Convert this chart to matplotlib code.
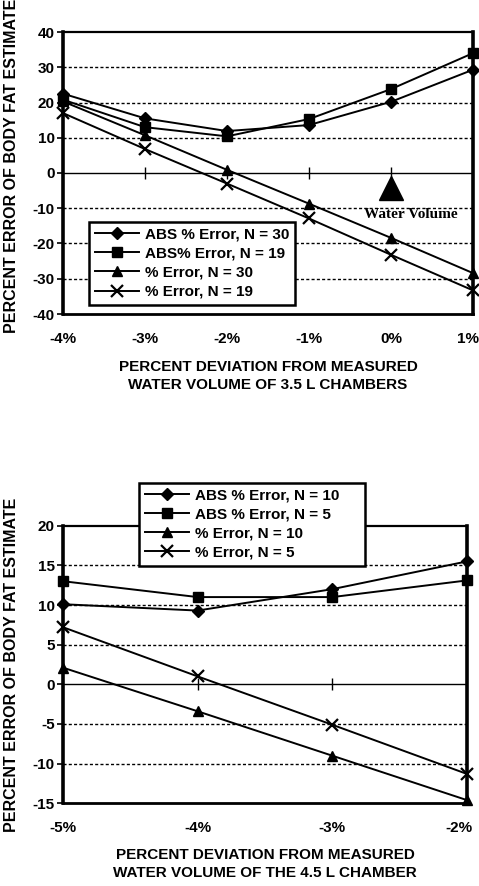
import matplotlib
matplotlib.use("Agg")
import matplotlib.pyplot as plt
import matplotlib.transforms as mtrans

plt.rcParams['font.family'] = ['Liberation Sans', 'DejaVu Sans']
plt.rcParams['font.weight'] = 'bold'

# ---- Top chart data (3.5 L chambers) ----
top_x = [-4, -3, -2, -1, 0, 1]
top_xlabels = ['-4%', '-3%', '-2%', '-1%', '0%', '1%']
top_abs_n30 = [22.5, 15.5, 11.9, 13.6, 20.2, 29.3]
top_abs_n19 = [20.8, 13.0, 10.4, 15.3, 23.8, 34.0]
top_err_n30 = [20.3, 10.7, 0.9, -8.7, -18.4, -28.4]
top_err_n19 = [17.0, 6.8, -3.0, -12.9, -23.2, -33.3]
top_labels = ['ABS % Error, N = 30', 'ABS% Error, N = 19',
              '% Error, N = 30', '% Error, N = 19']
top_yticks = [-40, -30, -20, -10, 0, 10, 20, 30, 40]
water_x, water_y = 0, -4.3
water_text = 'Water Volume'

# ---- Bottom chart data (4.5 L chamber) ----
bot_x = [-5, -4, -3, -2]
bot_xlabels = ['-5%', '-4%', '-3%', '-2%']
bot_abs_n10 = [10.1, 9.3, 12.0, 15.5]
bot_abs_n5 = [13.0, 11.0, 11.0, 13.1]
bot_err_n10 = [2.1, -3.4, -9.0, -14.6]
bot_err_n5 = [7.2, 1.0, -5.1, -11.3]
bot_labels = ['ABS % Error, N = 10', 'ABS % Error, N = 5',
              '% Error, N = 10', '% Error, N = 5']
bot_yticks = [-15, -10, -5, 0, 5, 10, 15, 20]

ylabel = 'PERCENT ERROR OF BODY FAT ESTIMATE'
top_xlabel = 'PERCENT DEVIATION FROM MEASURED\nWATER VOLUME OF 3.5 L CHAMBERS'
bot_xlabel = 'PERCENT DEVIATION FROM MEASURED\nWATER VOLUME OF THE 4.5 L CHAMBER'

W, H = 479, 886
fig = plt.figure(figsize=(W / 100, H / 100), dpi=100)

ax1 = fig.add_axes([63 / W, 1 - 314 / H, 410 / W, 282 / H])
ax2 = fig.add_axes([63 / W, 1 - 803.3 / H, 404 / W, 277.6 / H])

styles = [
    dict(marker='D', markersize=6.5),
    dict(marker='s', markersize=7),
    dict(marker='^', markersize=7.5),
    dict(marker='x', markersize=8, markeredgewidth=1.6),
]


def draw(ax, xs, series, labels, yticks, xlabels, ylim):
    for vals, lab, st in zip(series, labels, styles):
        ax.plot(xs, vals, color='black', lw=1.4, label=lab, clip_on=False,
                zorder=5, **st)
    ax.set_xlim(xs[0], xs[-1])
    ax.set_ylim(*ylim)
    ax.set_yticks(yticks)
    ax.set_yticklabels([str(v) for v in yticks], fontsize=11, fontweight='bold')
    ax.set_xticks(xs)
    ax.set_xticklabels(xlabels, fontsize=11, fontweight='bold')
    ax.tick_params(axis='x', length=0, pad=13)
    ax.tick_params(axis='y', length=4, width=1.2, pad=2, direction='out')
    for v in yticks:
        if v not in (0, ylim[0], ylim[1]):
            ax.axhline(v, color='black', lw=1.0, ls=(0, (2.2, 1.6)), zorder=1)
    ax.axhline(0, color='black', lw=1.0, zorder=1)
    ax.plot(xs[1:-1], [0] * (len(xs) - 2), ls='none', marker='|',
            markersize=8, markeredgewidth=1.0, color='black', zorder=2)
    ax.spines['left'].set_linewidth(2.6)
    ax.spines['right'].set_linewidth(2.6)
    ax.spines['top'].set_linewidth(1.6)
    ax.spines['bottom'].set_linewidth(2.0)
    # keep the right-most tick label inside the figure
    last = ax.get_xticklabels()[-1]
    last.set_ha('right')
    last.set_transform(last.get_transform() +
                       mtrans.ScaledTranslation(6 / 100, 0, fig.dpi_scale_trans))


draw(ax1, top_x, [top_abs_n30, top_abs_n19, top_err_n30, top_err_n19],
     top_labels, top_yticks, top_xlabels, (-40, 40))
draw(ax2, bot_x, [bot_abs_n10, bot_abs_n5, bot_err_n10, bot_err_n5],
     bot_labels, bot_yticks, bot_xlabels, (-15, 20))

# Water volume annotation
ax1.plot([water_x], [water_y], marker='^', markersize=17, color='black',
         ls='none', zorder=6)
ax1.text(0.24, -11.9, water_text, family=['Liberation Serif', 'DejaVu Serif'],
         fontweight='bold', fontsize=11, ha='center', va='center', zorder=6)

# legends
leg_kw = dict(frameon=True, fancybox=False, edgecolor='black', framealpha=1,
              prop={'weight': 'bold', 'size': 11}, handlelength=2.9,
              handletextpad=0.4, labelspacing=0.33, borderpad=0.4,
              borderaxespad=0)
leg1 = ax1.legend(loc='lower left', bbox_to_anchor=(0.063, 0.032, 0.503, 0.301),
                  mode='expand', **leg_kw)
leg1.get_frame().set_linewidth(1.8)
leg1.set_zorder(10)
leg2 = ax2.legend(loc='lower left', bbox_to_anchor=(0.188, 0.855, 0.56, 0.307),
                  mode='expand', **leg_kw)
leg2.get_frame().set_linewidth(1.8)
leg2.set_zorder(10)

# axis labels
fig.text(12 / W, 1 - 166 / H, ylabel, rotation=90, ha='center', va='center',
         fontsize=11.5, fontweight='bold')
fig.text(12 / W, 1 - 665 / H, ylabel, rotation=90, ha='center', va='center',
         fontsize=11.5, fontweight='bold')
fig.text(268 / W, 1 - 376 / H, top_xlabel, ha='center', va='center',
         fontsize=11, fontweight='bold', linespacing=1.4)
fig.text(265 / W, 1 - 864 / H, bot_xlabel, ha='center', va='center',
         fontsize=11, fontweight='bold', linespacing=1.3)

fig.savefig('out.png', dpi=100)
